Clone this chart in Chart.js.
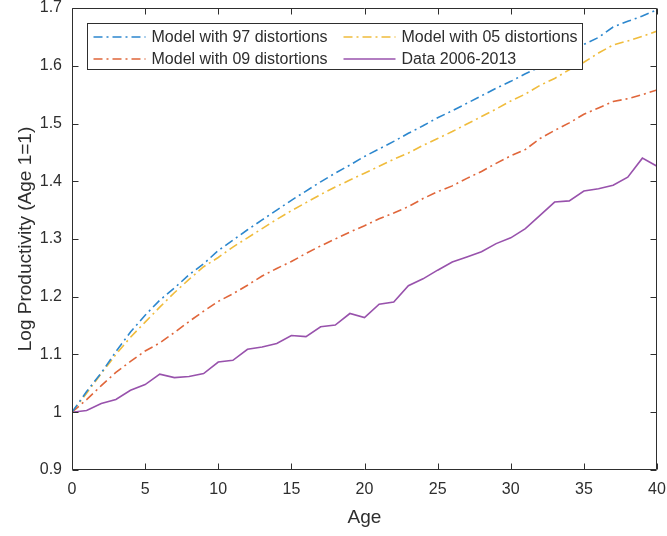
<!DOCTYPE html>
<html>
<head>
<meta charset="utf-8">
<script src="https://cdn.jsdelivr.net/npm/chart.js@4/dist/chart.umd.min.js"></script>
<style>
html,body{margin:0;padding:0;background:#fff;}
#wrap{width:667px;height:536px;}
</style>
</head>
<body>
<div id="wrap"><canvas id="c" width="667" height="536"></canvas></div>
<script>
const ages = [0,1,2,3,4,5,6,7,8,9,10,11,12,13,14,15,16,17,18,19,20,21,22,23,24,25,26,27,28,29,30,31,32,33,34,35,36,37,38,39,40];
const model97 = [1.000,1.036,1.068,1.105,1.139,1.168,1.194,1.215,1.238,1.257,1.280,1.298,1.316,1.333,1.350,1.367,1.383,1.399,1.414,1.428,1.443,1.456,1.469,1.483,1.496,1.510,1.522,1.535,1.548,1.561,1.573,1.586,1.598,1.611,1.624,1.637,1.649,1.667,1.677,1.686,1.697];
const model09 = [1.000,1.022,1.046,1.069,1.088,1.106,1.120,1.138,1.157,1.175,1.192,1.205,1.220,1.236,1.249,1.261,1.275,1.288,1.300,1.312,1.323,1.335,1.345,1.356,1.370,1.382,1.392,1.405,1.417,1.431,1.444,1.455,1.474,1.488,1.501,1.516,1.527,1.538,1.543,1.550,1.558];
const model05 = [1.000,1.033,1.067,1.100,1.130,1.156,1.182,1.207,1.230,1.252,1.268,1.286,1.302,1.318,1.334,1.349,1.363,1.377,1.390,1.402,1.414,1.426,1.438,1.449,1.462,1.474,1.486,1.499,1.512,1.525,1.539,1.551,1.566,1.578,1.593,1.606,1.622,1.636,1.643,1.651,1.660];
const data0613 = [1.000,1.003,1.015,1.022,1.038,1.048,1.066,1.060,1.062,1.067,1.087,1.090,1.109,1.113,1.119,1.133,1.131,1.148,1.151,1.171,1.164,1.187,1.191,1.219,1.231,1.246,1.260,1.269,1.278,1.292,1.302,1.318,1.341,1.364,1.366,1.383,1.387,1.393,1.407,1.440,1.426];
const seriesNames = ['Model with 97 distortions','Model with 09 distortions','Model with 05 distortions','Data 2006-2013'];
const xTickLabels = ['0','5','10','15','20','25','30','35','40'];
const yTickLabels = ['0.9','1','1.1','1.2','1.3','1.4','1.5','1.6','1.7'];

const FONT = '"Liberation Sans", Arial, Helvetica, sans-serif';
const AX = '#2e2e2e';
const dashDot = [9,4,2,4];

function pts(vals){ return ages.map((a,i)=>({x:a,y:vals[i]})); }

const boxPlugin = {
  id:'matlabBox',
  afterDatasetsDraw(chart){
    const ctx = chart.ctx, ca = chart.chartArea;
    const xs = chart.scales.x, ys = chart.scales.y;
    ctx.save();
    ctx.strokeStyle = AX; ctx.lineWidth = 1;
    ctx.beginPath();
    const L = Math.round(ca.left)+0.5, R = Math.round(ca.right)-0.5, T = Math.round(ca.top)+0.5, B = Math.round(ca.bottom)-0.5;
    ctx.rect(L, T, R-L, B-T);
    const tl = 6;
    xs.ticks.forEach(t=>{
      const px = Math.round(xs.getPixelForValue(t.value))+0.5;
      ctx.moveTo(px,B); ctx.lineTo(px,B-tl);
      ctx.moveTo(px,T); ctx.lineTo(px,T+tl);
    });
    ys.ticks.forEach(t=>{
      const py = Math.round(ys.getPixelForValue(t.value))+0.5;
      ctx.moveTo(L,py); ctx.lineTo(L+tl,py);
      ctx.moveTo(R,py); ctx.lineTo(R-tl,py);
    });
    ctx.stroke();

    // legend (two columns, column-major order)
    const lx = ca.left + 15.5, ly = ca.top + 15.5, lw = 495, lh = 46;
    ctx.fillStyle = '#fff';
    ctx.fillRect(lx, ly, lw, lh);
    ctx.strokeStyle = AX; ctx.lineWidth = 1;
    ctx.strokeRect(lx, ly, lw, lh);
    const colX = [lx+6, lx+256];
    const rowY = [ly+13.5, ly+35.5];
    ctx.font = '16px ' + FONT;
    ctx.textBaseline = 'middle';
    ctx.textAlign = 'left';
    chart.data.datasets.forEach((ds,i)=>{
      const col = Math.floor(i/2), row = i%2;
      const x0 = colX[col], y0 = rowY[row];
      ctx.save();
      ctx.strokeStyle = ds.borderColor; ctx.lineWidth = ds.borderWidth;
      ctx.setLineDash(ds.borderDash || []);
      ctx.beginPath(); ctx.moveTo(x0, y0); ctx.lineTo(x0+52, y0); ctx.stroke();
      ctx.restore();
      ctx.fillStyle = AX;
      ctx.fillText(ds.label, x0+58, y0+1);
    });
    ctx.restore();
  }
};

new Chart(document.getElementById('c'), {
  type:'line',
  data:{
    datasets:[
      {label:seriesNames[0], data:pts(model97), borderColor:'#2C87CE', borderDash:dashDot, borderWidth:1.6, pointRadius:0, fill:false, tension:0},
      {label:seriesNames[1], data:pts(model09), borderColor:'#E0663A', borderDash:dashDot, borderWidth:1.6, pointRadius:0, fill:false, tension:0},
      {label:seriesNames[2], data:pts(model05), borderColor:'#F0BC3C', borderDash:dashDot, borderWidth:1.6, pointRadius:0, fill:false, tension:0},
      {label:seriesNames[3], data:pts(data0613), borderColor:'#9852AC', borderWidth:1.6, pointRadius:0, fill:false, tension:0}
    ]
  },
  options:{
    responsive:false, animation:false, devicePixelRatio:1,
    layout:{padding:{left:0,right:10,top:8,bottom:0}},
    plugins:{legend:{display:false}, tooltip:{enabled:false}},
    scales:{
      x:{
        type:'linear', min:0, max:40,
        grid:{display:false, drawTicks:false},
        border:{display:false},
        ticks:{stepSize:5, padding:10, color:AX, font:{family:FONT,size:16}, maxRotation:0,
          callback:(v,i)=>xTickLabels[i]},
        title:{display:true, text:'Age', color:AX, font:{family:FONT,size:19}, padding:{top:0,bottom:7}},
        afterFit:(s)=>{ s.height = 66; s.paddingLeft = 0; s.paddingRight = 0; }
      },
      y:{
        type:'linear', min:0.9, max:1.7,
        grid:{display:false, drawTicks:false},
        border:{display:false},
        ticks:{stepSize:0.1, padding:10, color:AX, font:{family:FONT,size:16},
          callback:(v,i)=>yTickLabels[i]},
        title:{display:true, text:'Log Productivity (Age 1=1)', color:AX, font:{family:FONT,size:19}, padding:{top:14,bottom:0}},
        afterFit:(s)=>{ s.width = 72; s.paddingTop = 0; s.paddingBottom = 0; }
      }
    }
  },
  plugins:[boxPlugin]
});
</script>
</body>
</html>
